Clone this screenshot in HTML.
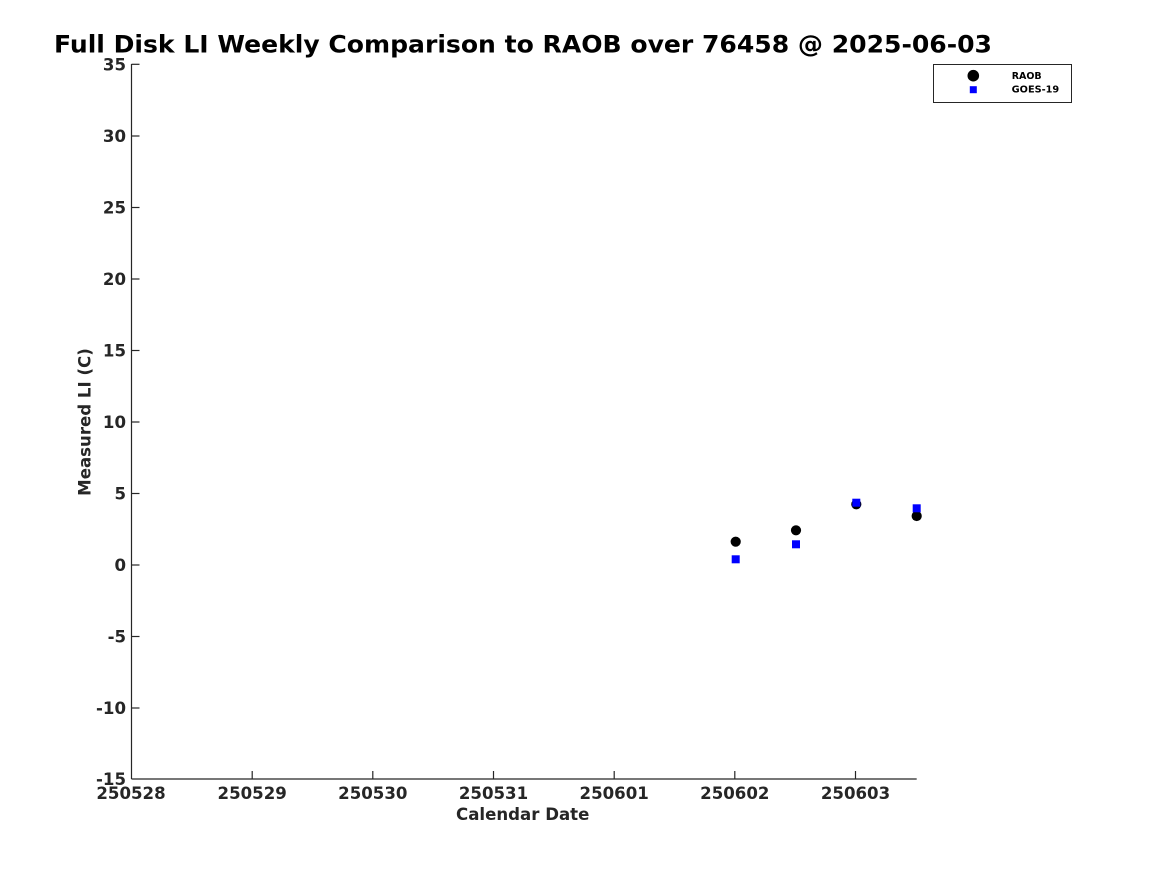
<!DOCTYPE html>
<html>
<head>
<meta charset="utf-8">
<style>
html,body{margin:0;padding:0;background:#fff;}
svg{display:block;}
text{font-family:"DejaVu Sans","Liberation Sans",sans-serif;font-weight:bold;}
</style>
</head>
<body>
<svg width="1167" height="875" viewBox="0 0 1167 875" xmlns="http://www.w3.org/2000/svg">
<rect width="1167" height="875" fill="#fff"/>
<!-- title -->
<text x="54" y="52.3" font-size="24" fill="#000" textLength="938" lengthAdjust="spacingAndGlyphs">Full Disk LI Weekly Comparison to RAOB over 76458 @ 2025-06-03</text>

<!-- axes -->
<g stroke="#262626" stroke-width="1.2" fill="none">
<line x1="131.5" y1="64" x2="131.5" y2="779"/>
<line x1="131.5" y1="779" x2="916.7" y2="779"/>
<!-- y ticks -->
<line x1="131.5" y1="64.3" x2="139.5" y2="64.3"/>
<line x1="131.5" y1="136" x2="139.5" y2="136"/>
<line x1="131.5" y1="207.5" x2="139.5" y2="207.5"/>
<line x1="131.5" y1="279" x2="139.5" y2="279"/>
<line x1="131.5" y1="350.5" x2="139.5" y2="350.5"/>
<line x1="131.5" y1="422" x2="139.5" y2="422"/>
<line x1="131.5" y1="493.5" x2="139.5" y2="493.5"/>
<line x1="131.5" y1="565" x2="139.5" y2="565"/>
<line x1="131.5" y1="636.5" x2="139.5" y2="636.5"/>
<line x1="131.5" y1="708" x2="139.5" y2="708"/>
<!-- x ticks -->
<line x1="252.2" y1="779" x2="252.2" y2="771"/>
<line x1="372.8" y1="779" x2="372.8" y2="771"/>
<line x1="493.5" y1="779" x2="493.5" y2="771"/>
<line x1="614.2" y1="779" x2="614.2" y2="771"/>
<line x1="734.8" y1="779" x2="734.8" y2="771"/>
<line x1="855.5" y1="779" x2="855.5" y2="771"/>
</g>

<!-- y tick labels -->
<g font-size="16.6" fill="#262626" text-anchor="end">
<text x="126" y="70.5">35</text>
<text x="126" y="142">30</text>
<text x="126" y="213.5">25</text>
<text x="126" y="285">20</text>
<text x="126" y="356.5">15</text>
<text x="126" y="428">10</text>
<text x="126" y="499.5">5</text>
<text x="126" y="571">0</text>
<text x="126" y="642.5">-5</text>
<text x="126" y="714">-10</text>
<text x="126" y="785">-15</text>
</g>

<!-- x tick labels -->
<g font-size="16.6" fill="#262626" text-anchor="middle">
<text x="131" y="799">250528</text>
<text x="252.2" y="799">250529</text>
<text x="372.8" y="799">250530</text>
<text x="493.5" y="799">250531</text>
<text x="614.2" y="799">250601</text>
<text x="734.8" y="799">250602</text>
<text x="855.5" y="799">250603</text>
</g>

<!-- axis labels -->
<text x="522.7" y="820" font-size="16.6" fill="#262626" text-anchor="middle">Calendar Date</text>
<text transform="translate(90.5,422) rotate(-90)" font-size="16.6" fill="#262626" text-anchor="middle">Measured LI (C)</text>

<!-- RAOB circles -->
<g fill="#000">
<circle cx="735.7" cy="541.7" r="5.1"/>
<circle cx="796" cy="530.3" r="5.1"/>
<circle cx="856.3" cy="504.3" r="5.1"/>
<circle cx="916.7" cy="516" r="5.1"/>
</g>
<!-- GOES-19 squares -->
<g fill="#0000ff">
<rect x="731.7" y="555.3" width="8" height="8"/>
<rect x="792" y="540.3" width="8" height="8"/>
<rect x="852.3" y="498.7" width="8" height="8"/>
<rect x="912.7" y="504.3" width="8" height="8"/>
</g>

<!-- legend -->
<rect x="933.5" y="64.5" width="138" height="38" fill="#fff" stroke="#262626" stroke-width="1"/>
<circle cx="973.3" cy="75.7" r="5.8" fill="#000"/>
<rect x="969.8" y="86.2" width="7" height="7" fill="#0000ff"/>
<g font-size="9.5" fill="#000">
<text x="1011.7" y="79">RAOB</text>
<text x="1011.7" y="92.5" textLength="47.5" lengthAdjust="spacingAndGlyphs">GOES-19</text>
</g>
</svg>
</body>
</html>
